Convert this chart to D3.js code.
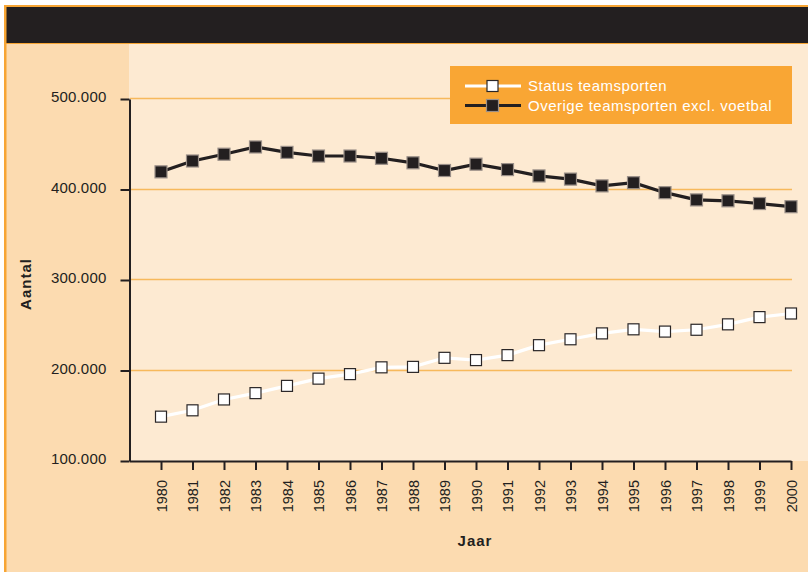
<!DOCTYPE html>
<html>
<head>
<meta charset="utf-8">
<script src="https://cdn.jsdelivr.net/npm/d3@7"></script>
<style>
    body { margin: 0; background: #ffffff; }
    svg { display: block; font-family: "Liberation Sans", Arial, sans-serif; }
</style>
</head>
<body>
<div id="chart"></div>
<script>
// values
const years = d3.range(1980, 2001);
const statusTeamsporten = [
    149000, 156000, 168000, 175000, 183000, 191000, 196000, 203500, 204000, 214000,
    211500, 217000, 228000, 234500, 241000, 245500, 243000, 245000, 251000, 259000, 263000
];
const overigeTeamsporten = [
    419500, 431500, 439000, 447000, 441000, 437000, 437000, 434500, 429500, 421000,
    428000, 422000, 415000, 411500, 404000, 407500, 396500, 388500, 387500, 384500, 381000
];
const yTicks = [100000, 200000, 300000, 400000, 500000];
const seriesNames = ["Status teamsporten", "Overige teamsporten excl. voetbal"];

const width = 808;
const height = 572;
const COLOR = {
    DARK: "#231f20",
    ORANGE: "#f7a534",
    PANEL: "#fcdbb0",
    PLOT: "#fdead2",
    GRID: "#f7b95c",
    LEGEND: "#f9a634",
};

const svg = d3.select("#chart")
    .append("svg")
    .attr("width", width)
    .attr("height", height);

// frame & backgrounds
svg.append("rect").attr("x", 5).attr("y", 5).attr("width", width - 5).attr("height", height - 5)
    .attr("fill", COLOR.PANEL);
svg.append("rect").attr("x", 129).attr("y", 44).attr("width", width - 129).attr("height", 417)
    .attr("fill", COLOR.PLOT);
svg.append("rect").attr("x", 5).attr("y", 5).attr("width", width - 5).attr("height", 39)
    .attr("fill", COLOR.ORANGE);
svg.append("rect").attr("x", 6).attr("y", 7).attr("width", width - 6).attr("height", 36)
    .attr("fill", COLOR.DARK);
svg.append("rect").attr("x", 4).attr("y", 5).attr("width", 2.5).attr("height", height - 5)
    .attr("fill", COLOR.ORANGE);

const x = d3.scaleLinear().domain([1979, 2000]).range([129.5, 791]);
const y = d3.scaleLinear().domain([100000, 500000]).range([461, 99]);

// gridlines
svg.append("g")
    .attr("id", "grid")
    .selectAll("line")
    .data(yTicks.slice(1))
    .enter()
    .append("line")
    .attr("x1", 130)
    .attr("x2", 792)
    .attr("y1", (d) => Math.round(y(d)) - 0.5)
    .attr("y2", (d) => Math.round(y(d)) - 0.5)
    .attr("stroke", COLOR.GRID)
    .attr("stroke-width", 1.3);

const fmt = (d) => d3.format(",")(d).replace(/,/g, ".");

// y axis
const yAxis = svg.append("g")
    .attr("transform", "translate(129.5,0)")
    .call(d3.axisLeft(y).tickValues(yTicks).tickFormat(fmt).tickSize(9).tickSizeOuter(0).tickPadding(14));
yAxis.select(".domain").attr("stroke", COLOR.DARK).attr("stroke-width", 2);
yAxis.selectAll(".tick line").attr("stroke", COLOR.DARK).attr("stroke-width", 2);
yAxis.selectAll(".tick text")
    .attr("fill", COLOR.DARK)
    .attr("y", -2)
    .style("font-size", "15px")
    .style("letter-spacing", "0.2px");

// x axis
const xAxis = svg.append("g")
    .attr("transform", "translate(0,461)")
    .call(d3.axisBottom(x).tickValues(years).tickFormat(d3.format("d")).tickSize(9).tickSizeOuter(0));
xAxis.select(".domain").attr("stroke", COLOR.DARK).attr("stroke-width", 2);
xAxis.selectAll(".tick line").attr("stroke", COLOR.DARK).attr("stroke-width", 2);
xAxis.selectAll(".tick text")
    .attr("fill", COLOR.DARK)
    .attr("transform", "rotate(-90)")
    .attr("x", -19)
    .attr("y", 0)
    .attr("dy", "0.36em")
    .style("text-anchor", "end")
    .style("font-size", "14.5px");

// axis titles
svg.append("text")
    .attr("x", 475)
    .attr("y", 546)
    .attr("text-anchor", "middle")
    .attr("fill", COLOR.DARK)
    .style("font-size", "15px")
    .style("font-weight", "bold")
    .style("letter-spacing", "1px")
    .text("Jaar");

svg.append("text")
    .attr("transform", "translate(31,284) rotate(-90)")
    .attr("text-anchor", "middle")
    .attr("fill", COLOR.DARK)
    .style("font-size", "15px")
    .style("font-weight", "bold")
    .style("letter-spacing", "1px")
    .text("Aantal");

// series
const series = [
    { name: seriesNames[0], values: statusTeamsporten, line: "#ffffff", fill: "#ffffff", stroke: "#2a2627", size: 11 },
    { name: seriesNames[1], values: overigeTeamsporten, line: COLOR.DARK, fill: COLOR.DARK, stroke: "#9a8f88", size: 12 },
];

const line = d3.line()
    .x((d, i) => x(years[i]))
    .y((d) => y(d));

series.forEach((s) => {
    const g = svg.append("g").attr("class", "series");
    g.append("path")
        .datum(s.values)
        .attr("d", line)
        .attr("fill", "none")
        .attr("stroke", s.line)
        .attr("stroke-width", 3.2);
    g.selectAll("rect")
        .data(s.values)
        .enter()
        .append("rect")
        .attr("x", (d, i) => x(years[i]) - s.size / 2)
        .attr("y", (d) => y(d) - s.size / 2)
        .attr("width", s.size)
        .attr("height", s.size)
        .attr("fill", s.fill)
        .attr("stroke", s.stroke)
        .attr("stroke-width", 1.2);
});

// legend
const legend = svg.append("g").attr("id", "legend");
legend.append("rect")
    .attr("x", 450).attr("y", 66).attr("width", 342).attr("height", 58)
    .attr("fill", COLOR.LEGEND);
series.forEach((s, i) => {
    const ly = 86 + i * 19.5;
    legend.append("line")
        .attr("x1", 465).attr("x2", 521)
        .attr("y1", ly).attr("y2", ly)
        .attr("stroke", s.line)
        .attr("stroke-width", 3);
    legend.append("rect")
        .attr("x", 492 - s.size / 2 + 0.5).attr("y", ly - s.size / 2)
        .attr("width", s.size).attr("height", s.size)
        .attr("fill", s.fill)
        .attr("stroke", s.stroke)
        .attr("stroke-width", 1.2);
    legend.append("text")
        .attr("x", 528)
        .attr("y", ly + 5)
        .attr("fill", "#ffffff")
        .style("font-size", "15px")
        .style("letter-spacing", "0.5px")
        .text(s.name);
});
</script>
</body>
</html>
